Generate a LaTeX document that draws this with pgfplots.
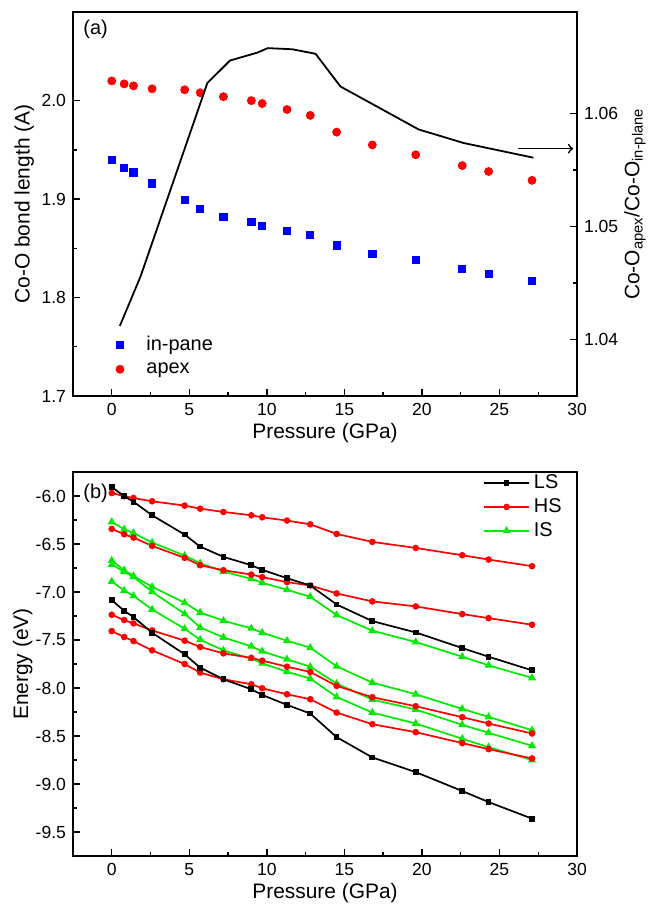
\documentclass[border=0pt]{standalone}
\usepackage{fontspec}
\setmainfont{Liberation Sans}
\usepackage{pgfplots}
\usepackage{pgfplotstable}
\pgfplotsset{compat=1.18}

\definecolor{cblue}{RGB}{0,0,255}
\definecolor{cred}{RGB}{255,0,0}
\definecolor{cgreen}{RGB}{0,235,0}

% bond lengths (Angstrom) vs pressure (GPa)
\pgfplotstableread{
P     inplane apex
0.0   1.940  2.020
0.8   1.932  2.017
1.4   1.927  2.015
2.6   1.916  2.012
4.7   1.899  2.011
5.7   1.890  2.008
7.2   1.882  2.004
9.0   1.877  2.000
9.7   1.873  1.997
11.3  1.868  1.991
12.8  1.864  1.985
14.5  1.853  1.968
16.8  1.844  1.955
19.6  1.838  1.945
22.6  1.829  1.934
24.3  1.824  1.928
27.1  1.817  1.919
}\bondtab

% apex / in-plane ratio
\pgfplotstableread{
P      ratio
0.52   1.0412
1.86   1.0456
6.16   1.0627
7.62   1.0647
9.38   1.0654
10.06  1.0658
11.64  1.0657
13.14  1.0653
14.75  1.0624
19.79  1.0586
22.69  1.0574
27.19  1.0561
}\ratiotab

% energies (eV)
\pgfplotstableread{
P     LSa    LSb    HSa    HSb    HSc    HSd    ISa    ISb    ISc    ISd
0.0  -5.906 -7.085 -5.969 -6.343 -7.237 -7.407 -6.270 -6.672 -6.714 -6.891
0.8  -6.003 -7.195 -6.003 -6.398 -7.292 -7.469 -6.347 -6.773 -6.790 -6.984
1.4  -6.059 -7.261 -6.021 -6.433 -7.327 -7.511 -6.385 -6.835 -6.842 -7.040
2.6  -6.201 -7.424 -6.055 -6.520 -7.400 -7.608 -6.485 -6.946 -6.998 -7.182
4.7  -6.402 -7.649 -6.100 -6.644 -7.507 -7.750 -6.620 -7.112 -7.227 -7.383
5.7  -6.527 -7.788 -6.132 -6.721 -7.573 -7.840 -6.700 -7.213 -7.369 -7.497
7.2  -6.634 -7.909 -6.166 -6.773 -7.639 -7.909 -6.787 -7.299 -7.473 -7.608
9.0  -6.721 -8.013 -6.201 -6.818 -7.687 -7.961 -6.863 -7.379 -7.566 -7.694
9.7  -6.769 -8.072 -6.222 -6.845 -7.715 -8.003 -6.904 -7.424 -7.618 -7.743
11.3 -6.856 -8.176 -6.256 -6.897 -7.778 -8.065 -6.977 -7.507 -7.701 -7.830
12.8 -6.932 -8.266 -6.295 -6.932 -7.833 -8.117 -7.050 -7.580 -7.778 -7.902
14.5 -7.130 -8.512 -6.395 -7.015 -7.978 -8.256 -7.240 -7.774 -7.954 -8.093
16.8 -7.303 -8.723 -6.478 -7.098 -8.096 -8.377 -7.403 -7.944 -8.121 -8.256
19.6 -7.421 -8.876 -6.541 -7.150 -8.190 -8.460 -7.521 -8.065 -8.224 -8.370
22.6 -7.584 -9.073 -6.617 -7.230 -8.304 -8.574 -7.674 -8.218 -8.384 -8.529
24.3 -7.674 -9.188 -6.662 -7.272 -8.370 -8.637 -7.764 -8.301 -8.467 -8.616
27.1 -7.816 -9.361 -6.731 -7.341 -8.474 -8.734 -7.895 -8.439 -8.602 -8.751
}\energytab

\pgfplotsset{
  panel/.style={
    width=252bp, height=192bp, scale only axis,
    xmin=-2.5, xmax=30,
    xtick={0,5,...,30}, minor x tick num=1,
    xtick pos=bottom, ytick pos=left,
    tick align=inside,
    major tick length=3.5bp, minor tick length=2bp,
    axis line style={line width=0.85bp},
    tick style={line width=0.7bp, black},
    tick label style={font=\fontsize{8.8}{10}\selectfont},
    label style={font=\fontsize{10.5}{12}\selectfont},
    /pgf/number format/assume math mode=true,
    xlabel={Pressure (GPa)},
    xlabel style={at={(0.5,-0.097)}, anchor=center},
    legend cell align=left,
    legend style={draw=none, fill=none, font=\fontsize{10}{12}\selectfont},
  },
  eline/.style={line width=0.85bp, forget plot},
}

\begin{document}
\begin{tikzpicture}
% (a) bond lengths
\begin{axis}[panel, at={(0,0)},
  ymin=1.7, ymax=2.09, ytick={1.7,1.8,1.9,2.0}, minor y tick num=1,
  yticklabel style={/pgf/number format/.cd, fixed, fixed zerofill, precision=1},
  ylabel={Co-O bond length (A)},
  ylabel style={at={(-0.097,0.5)}, anchor=center},
  legend style={at={(0.068,0.03)}, anchor=south west, row sep=0.5bp},
  legend image code/.code={\draw[#1] plot coordinates {(0bp,0bp)}; \path (-3bp,0bp) (11bp,0bp);},
]
\addplot[only marks, mark=square*, mark size=1.8bp, cblue] table[x=P, y=inplane] {\bondtab};
\addlegendentry{in-pane}
\addplot[only marks, mark=*, mark size=2bp, cred] table[x=P, y=apex] {\bondtab};
\addlegendentry{apex}
\node[anchor=west, font=\fontsize{10}{12}\selectfont, inner sep=0pt] at (rel axis cs:0.02,0.956) {(a)};
\end{axis}
\begin{axis}[panel, at={(0,0)},
  axis x line=none, xlabel={},
  axis y line*=right, ytick pos=right, tick align=inside,
  ymin=1.035, ymax=1.069, ytick={1.04,1.05,1.06}, minor y tick num=1,
  yticklabel style={/pgf/number format/.cd, fixed, fixed zerofill, precision=2},
  ylabel={Co-O\textsubscript{apex}/Co-O\textsubscript{in-plane}},
  ylabel style={at={(1.115,0.5)}, anchor=center},
]
\addplot[black, line width=0.9bp, no marks] table[x=P, y=ratio] {\ratiotab};
\draw[->, line width=0.8bp] (axis cs:26.2,1.0569) -- (axis cs:29.75,1.0569);
\end{axis}

% (b) energies
\begin{axis}[panel, at={(0,-230bp)},
  ymin=-9.75, ymax=-5.75, ytick={-9.5,-9,-8.5,-8,-7.5,-7,-6.5,-6}, minor y tick num=1,
  yticklabel style={/pgf/number format/.cd, fixed, fixed zerofill, precision=1},
  ylabel={Energy (eV)},
  ylabel style={at={(-0.1,0.5)}, anchor=center},
  legend style={at={(0.99,1.015)}, anchor=north east, row sep=-0.5bp},
  legend image code/.code={\draw[mark repeat=2, mark phase=2, #1] plot coordinates {(0bp,0bp) (11.25bp,0bp) (22.5bp,0bp)};},
]
\addlegendimage{black, line width=0.85bp, mark=square*, mark size=1bp}
\addlegendentry{LS}
\addlegendimage{cred, line width=0.85bp, mark=*, mark size=1.2bp}
\addlegendentry{HS}
\addlegendimage{cgreen, line width=0.85bp, mark=triangle*, mark size=1.5bp}
\addlegendentry{IS}
\addplot[eline, cgreen, mark=triangle*, mark size=1.5bp] table[x=P, y=ISa] {\energytab};
\addplot[eline, cgreen, mark=triangle*, mark size=1.5bp] table[x=P, y=ISb] {\energytab};
\addplot[eline, cgreen, mark=triangle*, mark size=1.5bp] table[x=P, y=ISc] {\energytab};
\addplot[eline, cgreen, mark=triangle*, mark size=1.5bp] table[x=P, y=ISd] {\energytab};
\addplot[eline, cred, mark=*, mark size=1.2bp] table[x=P, y=HSa] {\energytab};
\addplot[eline, cred, mark=*, mark size=1.2bp] table[x=P, y=HSb] {\energytab};
\addplot[eline, cred, mark=*, mark size=1.2bp] table[x=P, y=HSc] {\energytab};
\addplot[eline, cred, mark=*, mark size=1.2bp] table[x=P, y=HSd] {\energytab};
\addplot[eline, black, mark=square*, mark size=1bp] table[x=P, y=LSa] {\energytab};
\addplot[eline, black, mark=square*, mark size=1bp] table[x=P, y=LSb] {\energytab};
\node[anchor=west, font=\fontsize{10}{12}\selectfont, inner sep=0pt] at (rel axis cs:0.02,0.945) {(b)};
\end{axis}
\pgfresetboundingbox
\path[use as bounding box] (-36.5bp,-254bp) rectangle (289bp,198bp);
\end{tikzpicture}
\end{document}
